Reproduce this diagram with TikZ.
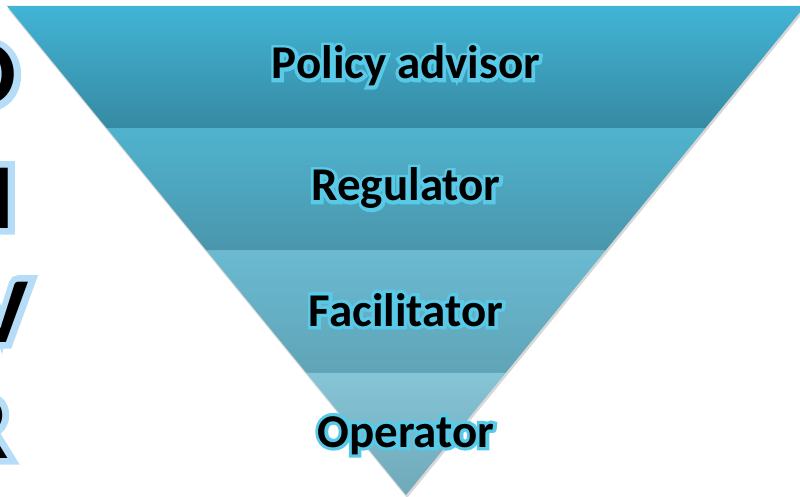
\documentclass[tikz,border=0pt]{standalone}
\usepackage{fontspec}
\setmainfont{Carlito}
\newfontfamily\glowfont{Carlito Bold}[FakeBold=14]
\usepackage{tikz}
\usetikzlibrary{calc}
\definecolor{policytop}{HTML}{42B4D5}
\definecolor{policybot}{HTML}{368AA3}
\definecolor{regtop}{HTML}{50B3CE}
\definecolor{regbot}{HTML}{4A96AC}
\definecolor{factop}{HTML}{6ABAD1}
\definecolor{facbot}{HTML}{60A4B7}
\definecolor{optop}{HTML}{86C5D6}
\definecolor{opbot}{HTML}{6FA9BA}
\definecolor{labelglow}{HTML}{58CAE8}
\definecolor{letterglow}{HTML}{B5DDF8}
\newcommand{\haloed}[2]{\rlap{\glowfont\color{#1}#2}#2}
\tikzstyle{rolelabel} = [inner sep=0, anchor=base,
font=\fontsize{47}{47}\selectfont\bfseries]
\tikzstyle{sideletter} = [inner sep=0, anchor=base east,
font=\fontsize{93}{93}\selectfont\bfseries]

\begin{document}
\begin{tikzpicture}[x=1pt, y=1pt]
	\useasboundingbox (0,0) rectangle (800,496);
	\clip (0,0) rectangle (800,496);
	\coordinate (tl) at (7, 490);
	\coordinate (tr) at (805, 490);
	\coordinate (ap) at (406, 1);
	\coordinate (l1) at ($(tl)!.25!(ap)$);
	\coordinate (r1) at ($(tr)!.25!(ap)$);
	\coordinate (l2) at ($(tl)!.5!(ap)$);
	\coordinate (r2) at ($(tr)!.5!(ap)$);
	\coordinate (l3) at ($(tl)!.75!(ap)$);
	\coordinate (r3) at ($(tr)!.75!(ap)$);
	%% Shadow under the funnel
	\fill[black!35, opacity=.45] ($(tl)+(1,-3)$) -- ($(tr)+(1,-3)$) -- ($(ap)+(1,-3)$) -- cycle;
	%% Bands, top to bottom
	\shade[top color=policytop, bottom color=policybot] (tl) -- (tr) -- (r1) -- (l1) -- cycle;
	\shade[top color=regtop, bottom color=regbot] (l1) -- (r1) -- (r2) -- (l2) -- cycle;
	\shade[top color=factop, bottom color=facbot] (l2) -- (r2) -- (r3) -- (l3) -- cycle;
	\shade[top color=optop, bottom color=opbot] (l3) -- (r3) -- (ap) -- cycle;
	%% Labels
	\node[rolelabel] (policy) at (406, 417) {\haloed{labelglow}{Policy advisor}};
	\node[rolelabel] (regulator) at (406, 295) {\haloed{labelglow}{Regulator}};
	\node[rolelabel] (facilitator) at (406, 170) {\haloed{labelglow}{Facilitator}};
	\node[rolelabel] (operator) at (406, 49) {\haloed{labelglow}{Operator}};
	%% Letters cut by the left edge
	\node[sideletter] (letO) at (17, 391) {\haloed{letterglow}{O}};
	\node[sideletter] (letN) at (14, 268) {\haloed{letterglow}{N}};
	\node[sideletter] (letV) at (29, 154) {\haloed{letterglow}{V}};
	\node[sideletter] (letR) at (9, 38) {\haloed{letterglow}{R}};
\end{tikzpicture}
\end{document}
